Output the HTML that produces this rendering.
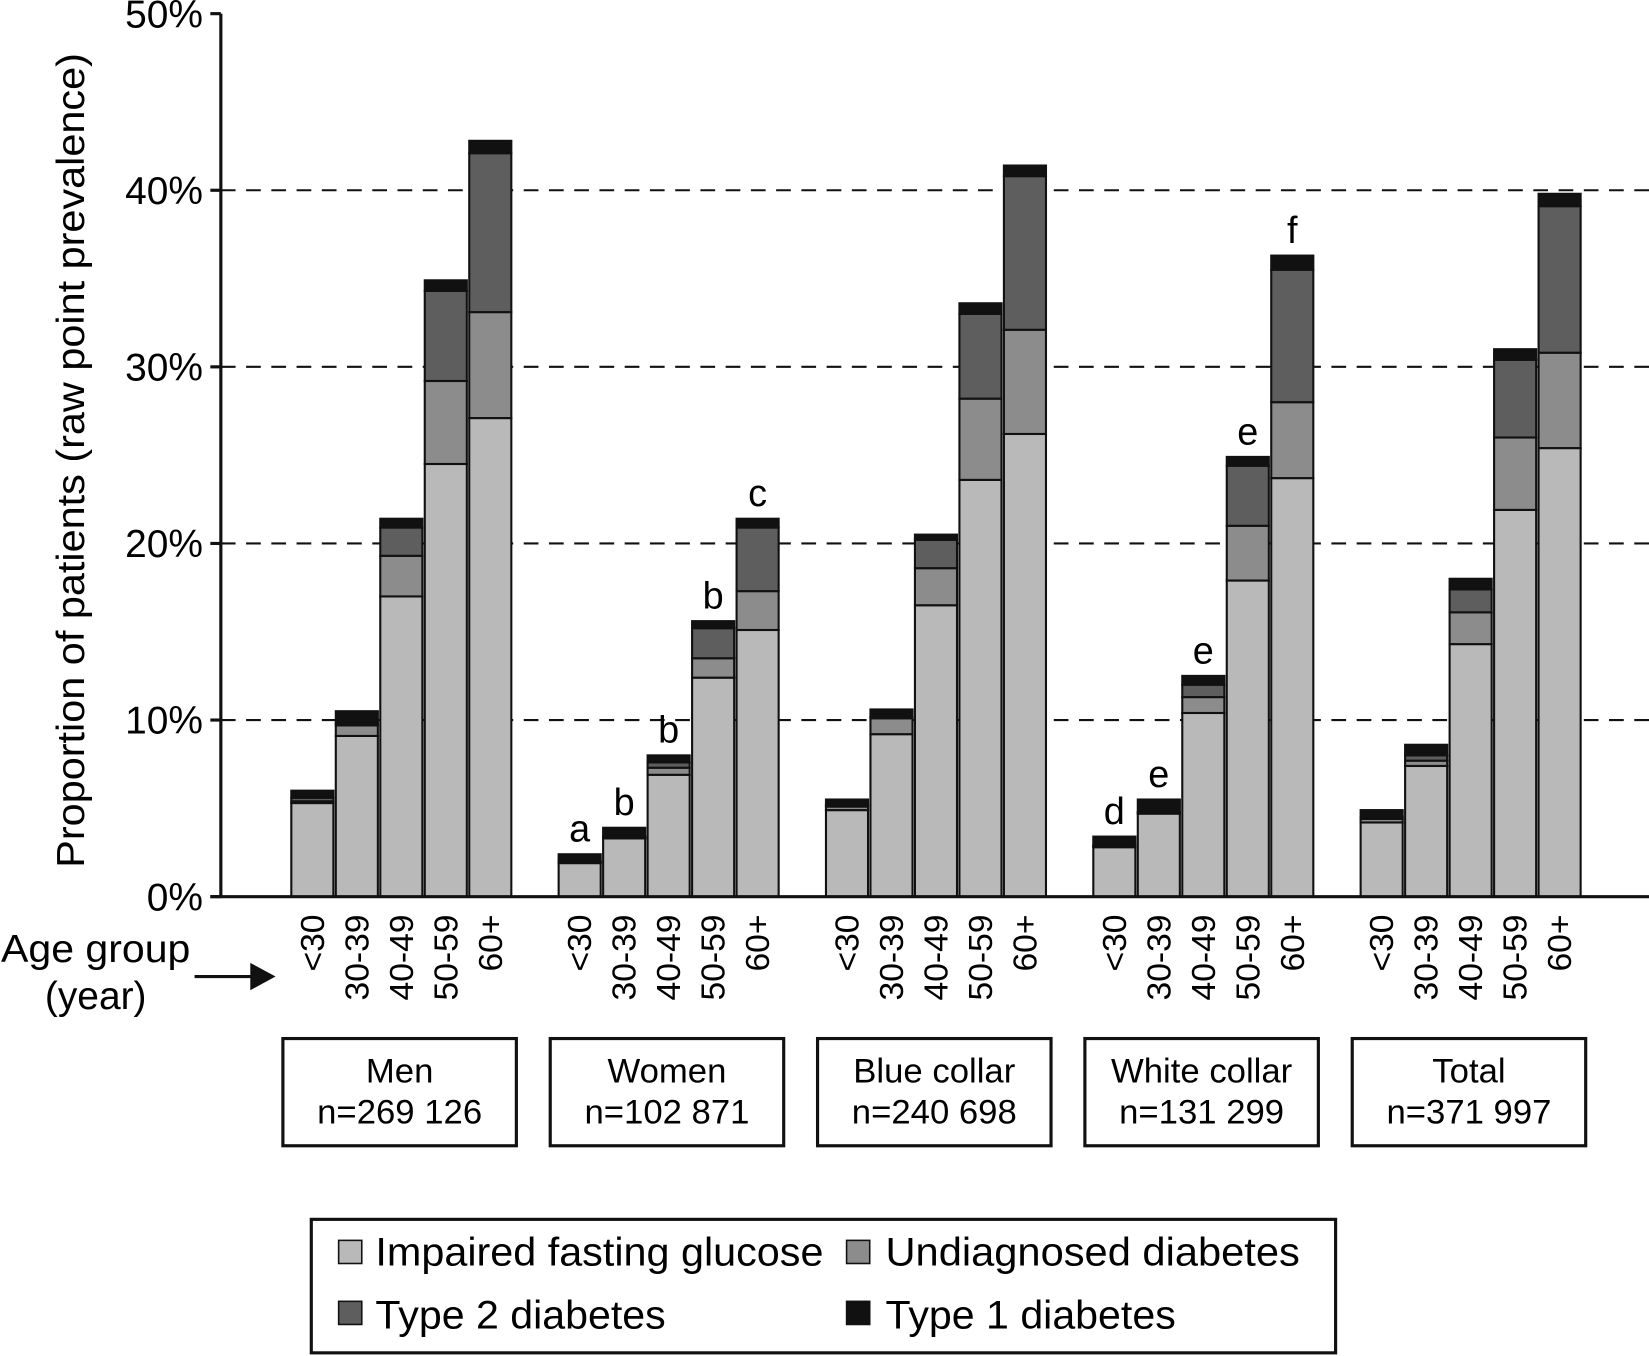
<!DOCTYPE html>
<html><head><meta charset="utf-8"><style>
html,body{margin:0;padding:0;background:#fff;}
svg{display:block;font-family:"Liberation Sans",Arial,sans-serif;}
</style></head><body>
<svg id="chart" width="1649" height="1356" viewBox="0 0 1568 1290" preserveAspectRatio="none" xmlns="http://www.w3.org/2000/svg">
<g id="grid"></g>
<g id="bars"></g>
<g id="axes"></g>
<text transform="translate(80,438) rotate(-90)" text-anchor="middle" font-size="37" textLength="775" lengthAdjust="spacingAndGlyphs">Proportion of patients (raw point prevalence)</text>
<text x="91" y="915" text-anchor="middle" font-size="37" textLength="180" lengthAdjust="spacingAndGlyphs">Age group</text>
<text x="91" y="960" text-anchor="middle" font-size="37">(year)</text>
<line x1="185" y1="929" x2="240" y2="929" stroke="#111" stroke-width="3"/>
<polygon points="238,916 262,929 238,942" fill="#111"/>
<g id="boxes"></g>
<g>
<rect x="296" y="1160" width="974" height="127" fill="none" stroke="#111" stroke-width="3"/>
<rect x="322" y="1180" width="22" height="22" fill="#b9b9b9" stroke="#111" stroke-width="1.5"/>
<text x="357" y="1204" font-size="38" textLength="426" lengthAdjust="spacingAndGlyphs">Impaired fasting glucose</text>
<rect x="805" y="1180" width="22" height="22" fill="#8c8c8c" stroke="#111" stroke-width="1.5"/>
<text x="842" y="1204" font-size="38" textLength="394" lengthAdjust="spacingAndGlyphs">Undiagnosed diabetes</text>
<rect x="322" y="1238" width="22" height="22" fill="#5e5e5e" stroke="#111" stroke-width="1.5"/>
<text x="357" y="1264" font-size="38" textLength="276" lengthAdjust="spacingAndGlyphs">Type 2 diabetes</text>
<rect x="805" y="1238" width="22" height="22" fill="#111" stroke="#111" stroke-width="1.5"/>
<text x="842" y="1264" font-size="38" textLength="276" lengthAdjust="spacingAndGlyphs">Type 1 diabetes</text>
</g>
</svg>
<script>
const groups = ["Men","Women","Blue collar","White collar","Total"];
const groupN = ["n=269 126","n=102 871","n=240 698","n=131 299","n=371 997"];
const ageGroups = ["<30","30-39","40-49","50-59","60+"];
const yTicks = [0,10,20,30,40,50];
const ifg = [[5.3,9.1,17.0,24.5,27.1],[1.9,3.3,6.9,12.4,15.1],[4.9,9.2,16.5,23.6,26.2],[2.8,4.7,10.4,17.9,23.7],[4.2,7.4,14.3,21.9,25.4]];
const undiagnosed = [[0.1,0.6,2.3,4.7,6.0],[0.05,0.05,0.4,1.1,2.2],[0.2,0.9,2.1,4.6,5.9],[0.05,0.05,0.9,3.1,4.3],[0.2,0.3,1.8,4.1,5.4]];
const type2 = [[0.2,0.1,1.6,5.1,9.0],[0.05,0.05,0.3,1.7,3.6],[0.1,0.1,1.6,4.8,8.7],[0.05,0.05,0.7,3.4,7.5],[0.1,0.3,1.3,4.4,8.3]];
const type1 = [[0.4,0.7,0.5,0.6,0.7],[0.4,0.5,0.4,0.4,0.5],[0.3,0.4,0.3,0.6,0.6],[0.5,0.7,0.5,0.5,0.8],[0.4,0.6,0.6,0.6,0.7]];
const letters = [["","","","",""],["a","b","b","b","c"],["","","","",""],["d","e","e","e","f"],["","","","",""]];

const NS="http://www.w3.org/2000/svg";
const y0=853, pxPer=16.8;
function yScale(v){return y0 - v*pxPer;}
function xBar(g,i){return 277 + g*254.2 + i*42.3;}
const bw=40;
function mk(tag,attrs,parent){const e=document.createElementNS(NS,tag);for(const k in attrs)e.setAttribute(k,attrs[k]);parent.appendChild(e);return e;}
const grid=document.getElementById('grid'), bars=document.getElementById('bars'), axes=document.getElementById('axes'), boxes=document.getElementById('boxes');

yTicks.forEach(t=>{
  const y=yScale(t);
  if(t>0&&t<50){const l=mk('line',{x1:210,x2:1568,y1:y,y2:y,stroke:'#111','stroke-width':2,'stroke-dasharray':'14,10'},grid);
    
    }
  const tk=mk('line',{x1:200,x2:210,y1:y,y2:y,stroke:'#111','stroke-width':3},axes);
  
  
  const tx=mk('text',{x:193,y:y+13,'text-anchor':'end','font-size':37},axes);
  tx.textContent=t+'%';
  
  
});
const ya=mk('line',{x1:210,x2:210,y1:yScale(50),y2:y0,stroke:'#111','stroke-width':3},axes);


const xa=mk('line',{x1:200,x2:1568,y1:y0,y2:y0,stroke:'#111','stroke-width':3},axes);



const series=[[ifg,'#b9b9b9','ifg'],[undiagnosed,'#8c8c8c','undiagnosed'],[type2,'#5e5e5e','type2'],[type1,'#111','type1']];
groups.forEach((gname,g)=>{
  ageGroups.forEach((a,i)=>{
    let cum=0;const x=xBar(g,i);
    series.forEach(([arr,col,nm])=>{
      const v=arr[g][i];
      const r=mk('rect',{x:x,y:yScale(cum+v),width:bw,height:v*pxPer,fill:col,stroke:'#111','stroke-width':2},bars);
      
      
      cum+=v;
    });
    if(letters[g][i]){
      const lt=mk('text',{x:x+bw/2,y:yScale(cum)-12,'text-anchor':'middle','font-size':36},bars);
      lt.textContent=letters[g][i];
      
      
    }
    const al=mk('text',{transform:'translate('+(x+bw/2+11)+',870) rotate(-90)','text-anchor':'end','font-size':32},axes);
    al.textContent=a;
    
    
  });
  const bx=269+g*254.2;
  const rb=mk('rect',{x:bx,y:988,width:222,height:102,fill:'none',stroke:'#111','stroke-width':3},boxes);
  
  
  const t1=mk('text',{x:bx+111,y:1030,'text-anchor':'middle','font-size':33},boxes);
  t1.textContent=gname;
  
  
  const t2=mk('text',{x:bx+111,y:1069,'text-anchor':'middle','font-size':33},boxes);
  t2.textContent=groupN[g];
  
  
});
</script>
</body></html>
